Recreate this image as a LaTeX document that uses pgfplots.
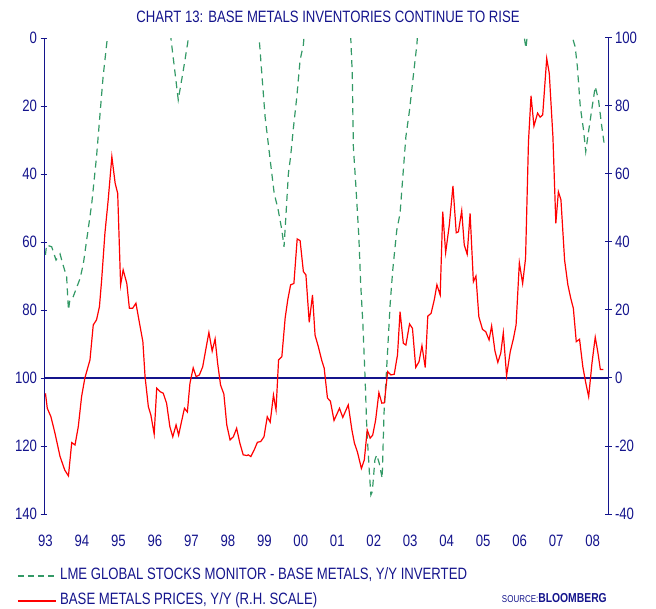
\documentclass[border=0pt]{standalone}
\usepackage{fontspec}
\setmainfont{Liberation Sans}[FakeStretch=0.8]
\usepackage{pgfplots}
\usepackage{pgfplotstable}
\pgfplotsset{compat=1.18}

\definecolor{navy}{RGB}{20,20,140}
\definecolor{lmegreen}{RGB}{51,153,102}
\definecolor{pricered}{RGB}{255,0,0}

% LME stocks, y/y, inverted (left scale); values < 0 run off the top
\pgfplotstableread{
year value
1993.00 63.8
1993.03 60.9
1993.17 61.4
1993.29 65.3
1993.40 63.5
1993.47 66.3
1993.58 70.2
1993.63 80.0
1993.67 77.0
1993.76 76.1
1993.95 70.7
1994.04 66.3
1994.13 59.4
1994.27 48.6
1994.40 34.9
1994.49 23.1
1994.58 11.4
1994.69 0.6
1994.80 -10
1995.20 -30
1995.80 -40
1996.20 -20
1996.35 -8
1996.46 2.0
1996.64 18.2
1996.78 9.4
1996.90 1.4
1997.00 -10
1997.50 -35
1998.00 -40
1998.60 -20
1998.84 -3
1998.86 0.4
1998.93 10.4
1999.02 23.1
1999.16 35.9
1999.27 45.7
1999.38 50.6
1999.48 56.5
1999.54 61.4
1999.59 52.5
1999.66 39.8
1999.72 34.9
1999.79 27.1
1999.89 17.3
1999.98 6.5
2000.07 2.0
2000.20 -15
2000.60 -35
2001.00 -30
2001.35 -3
2001.37 0.4
2001.41 10.4
2001.44 32.0
2001.51 43.7
2001.59 58.4
2001.64 72.2
2001.70 83.9
2001.76 99.6
2001.81 115.3
2001.88 128.0
2001.92 134.4
2001.96 133.4
2002.03 124.1
2002.08 122.6
2002.15 125.1
2002.23 129.5
2002.28 110.4
2002.36 95.7
2002.45 78.0
2002.52 68.2
2002.63 56.5
2002.72 51.6
2002.81 38.8
2002.88 29.0
2002.98 21.2
2003.07 12.4
2003.18 2.0
2003.30 -15
2004.00 -50
2005.00 -40
2005.90 -8
2006.10 -2
2006.17 3.0
2006.21 -1
2006.50 -20
2006.90 -10
2007.40 -3
2007.46 0.4
2007.52 2.6
2007.58 8.4
2007.66 20.2
2007.75 27.1
2007.81 33.4
2007.88 28.0
2007.98 20.7
2008.07 14.3
2008.16 18.2
2008.25 26.1
2008.32 31.5
}\lme

% base metals prices, y/y (right scale)
\pgfplotstableread{
year value
1993.00 -4.5
1993.05 -8.9
1993.15 -11.4
1993.26 -16.2
1993.40 -23.1
1993.53 -27.1
1993.63 -28.8
1993.72 -19.0
1993.81 -19.7
1993.90 -14.3
1993.99 -5.5
1994.08 0.0
1994.22 5.3
1994.31 15.6
1994.40 17.1
1994.48 21.0
1994.54 28.8
1994.63 42.6
1994.72 52.4
1994.82 65.1
1994.91 57.3
1994.98 54.3
1995.06 27.4
1995.13 31.8
1995.23 27.8
1995.30 20.5
1995.39 20.5
1995.48 22.0
1995.57 16.6
1995.67 10.7
1995.73 0.4
1995.82 -8.4
1995.89 -10.9
1995.98 -16.5
1996.05 -3.0
1996.14 -4.0
1996.23 -4.5
1996.32 -7.4
1996.41 -14.3
1996.49 -17.3
1996.58 -13.8
1996.65 -16.8
1996.73 -12.8
1996.81 -8.9
1996.89 -10.0
1996.96 -1.6
1997.05 3.0
1997.13 0.4
1997.22 0.9
1997.31 3.3
1997.40 8.7
1997.48 13.4
1997.57 7.9
1997.65 11.5
1997.72 4.3
1997.80 -2.1
1997.89 -4.7
1997.97 -13.8
1998.06 -18.2
1998.15 -17.3
1998.24 -14.8
1998.33 -19.2
1998.42 -22.6
1998.52 -22.8
1998.56 -22.6
1998.63 -23.1
1998.72 -21.2
1998.81 -18.9
1998.90 -18.7
1998.99 -17.3
1999.08 -11.4
1999.16 -13.0
1999.25 -5.0
1999.32 -9.4
1999.39 5.3
1999.48 6.3
1999.57 17.6
1999.64 22.9
1999.72 27.4
1999.81 27.8
1999.90 40.9
1999.98 40.4
2000.07 31.3
2000.14 30.3
2000.23 16.4
2000.32 24.4
2000.39 12.6
2000.48 9.2
2000.57 5.3
2000.64 2.9
2000.73 -5.9
2000.81 -6.8
2000.91 -12.5
2001.06 -8.9
2001.15 -11.6
2001.30 -7.9
2001.40 -15.3
2001.47 -19.2
2001.55 -21.7
2001.66 -26.6
2001.74 -24.1
2001.82 -15.3
2001.90 -17.7
2001.97 -16.8
2002.05 -12.4
2002.14 -4.3
2002.22 -7.4
2002.29 -7.3
2002.38 1.9
2002.47 0.9
2002.56 1.1
2002.65 6.8
2002.72 19.5
2002.81 10.2
2002.88 9.7
2002.98 15.9
2003.06 14.6
2003.15 3.1
2003.24 4.8
2003.32 9.5
2003.41 3.1
2003.48 18.2
2003.57 19.0
2003.66 23.1
2003.73 27.4
2003.82 24.4
2003.89 48.9
2003.97 36.9
2004.07 45.0
2004.17 56.5
2004.26 42.7
2004.32 43.0
2004.41 49.2
2004.48 39.1
2004.56 36.4
2004.64 48.4
2004.73 28.3
2004.80 30.0
2004.88 18.0
2004.98 14.3
2005.07 13.6
2005.16 11.2
2005.23 15.3
2005.32 8.0
2005.40 4.6
2005.48 7.3
2005.55 13.3
2005.64 0.7
2005.74 7.7
2005.83 11.7
2005.90 15.6
2005.99 33.9
2006.08 27.8
2006.16 35.2
2006.24 69.5
2006.31 83.0
2006.39 74.1
2006.49 77.9
2006.56 76.7
2006.63 77.4
2006.74 94.0
2006.81 89.6
2006.91 71.0
2006.99 45.5
2007.06 54.8
2007.13 52.4
2007.23 34.7
2007.32 27.4
2007.40 23.4
2007.47 20.5
2007.55 10.7
2007.64 11.4
2007.73 3.3
2007.81 -1.4
2007.89 -5.5
2007.98 4.3
2008.07 12.0
2008.14 7.7
2008.21 2.5
2008.29 2.5
}\prices

\pgfplotsset{
  chart/.style={
    scale only axis,
    width=564bp, height=476bp,
    xmin=1992.96, xmax=2008.42,
    tick align=center,
    major tick length=7bp,
    axis line style={navy, line width=1bp},
    tick style={navy, line width=1bp},
    ticklabel style={font=\fontsize{16.5}{18}\selectfont, text=navy},
    /pgf/number format/assume math mode=true,
  },
}

\begin{document}
\begin{tikzpicture}
\path[use as bounding box] (-44bp,-95bp) rectangle (612bp,514bp);

% left scale, inverted
\begin{axis}[chart,
  y dir=reverse, ymin=0, ymax=140,
  ytick={0,20,...,140},
  axis y line*=left, axis x line=none,
]
  \addplot[lmegreen, line width=1.2bp, dash pattern=on 7bp off 5bp]
    table[x=year, y=value] {\lme};
\end{axis}

% right scale
\begin{axis}[chart,
  ymin=-40, ymax=100,
  ytick={-40,-20,...,100},
  axis y line*=right, axis x line*=bottom,
  x axis line style={draw=none},
  xtick={1993,...,2008},
  xticklabels={93,94,95,96,97,98,99,00,01,02,03,04,05,06,07,08},
  xtick style={draw=none},
  xticklabel style={yshift=-14bp},
]
  \addplot[draw=navy, line width=1.2bp] coordinates {(1992.96,0) (2008.42,0)};
  \addplot[pricered, line width=1.2bp] table[x=year, y=value] {\prices};
\end{axis}

\node[text=navy, font=\fontsize{16.5}{18}\selectfont] at (284bp,497bp)
  {CHART 13: BASE METALS INVENTORIES CONTINUE TO RISE};

\draw[lmegreen, line width=1.2bp, dash pattern=on 6bp off 4bp] (-26bp,-62bp) -- (12bp,-62bp);
\node[anchor=west, text=navy, font=\fontsize{16.5}{18}\selectfont, inner sep=0pt]
  at (16bp,-61bp) {LME GLOBAL STOCKS MONITOR - BASE METALS, Y/Y INVERTED};
\draw[pricered, line width=1.2bp] (-26bp,-87bp) -- (12bp,-87bp);
\node[anchor=west, text=navy, font=\fontsize{16.5}{18}\selectfont, inner sep=0pt]
  at (16bp,-86bp) {BASE METALS PRICES, Y/Y (R.H. SCALE)};
\node[anchor=east, text=navy, inner sep=0pt] at (563bp,-84bp)
  {\fontsize{10}{12}\selectfont SOURCE:\fontsize{13}{15}\selectfont\bfseries BLOOMBERG};
\end{tikzpicture}
\end{document}
